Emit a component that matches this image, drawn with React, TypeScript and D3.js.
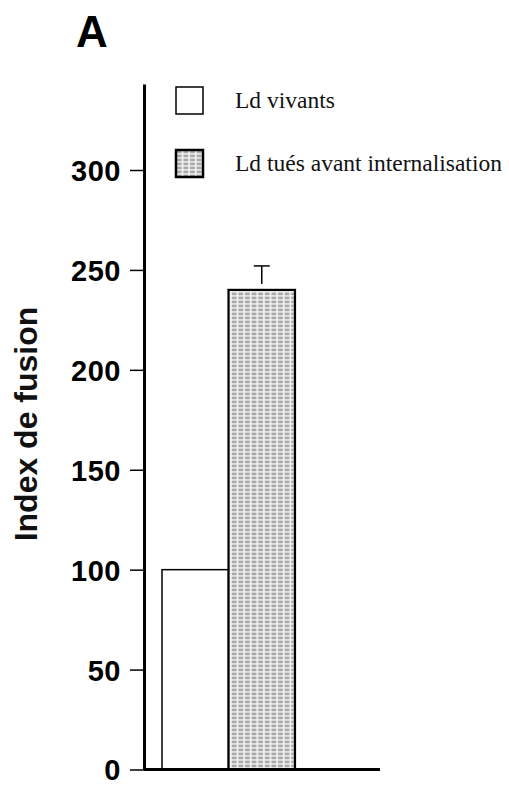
import React, { useEffect, useRef } from 'react';
import * as d3 from 'd3';

// data
const categories = ['Ld vivants', 'Ld tués avant internalisation'];
const values = [100, 240];
const errors = [0, 12];
const yTicks = [0, 50, 100, 150, 200, 250, 300];

const App = () => {
  const svgRef = useRef<SVGSVGElement>(null);

  useEffect(() => {
    if (!svgRef.current) return;
    const svg = d3.select(svgRef.current);
    svg.selectAll('*').remove();

    const width = 509;
    const height = 785;
    const axisX = 144;
    const baseY = 769.5;

    svg.attr('width', width).attr('height', height);

    // dotted grey fill used by the second bar
    const defs = svg.append('defs');
    const pat = defs.append('pattern')
      .attr('id', 'dots')
      .attr('patternUnits', 'userSpaceOnUse')
      .attr('width', 6.6)
      .attr('height', 4);
    pat.append('rect').attr('width', 6.6).attr('height', 4).attr('fill', '#f2f2f2');
    pat.append('rect').attr('x', 0.8).attr('y', 0.6).attr('width', 4.8).attr('height', 2.6).attr('fill', '#a9a9a9');

    const y = d3.scaleLinear().domain([0, 300]).range([baseY, 170]);
    const x = d3.scaleBand().domain(categories).range([162, 295]).paddingInner(0);

    // panel letter
    svg.append('text')
      .attr('x', 76)
      .attr('y', 47)
      .attr('font-family', 'Liberation Sans, Arial, sans-serif')
      .attr('font-weight', 'bold')
      .attr('font-size', 44)
      .text('A');

    // bars
    svg.selectAll('.bar')
      .data(values)
      .enter()
      .append('rect')
      .attr('class', 'bar')
      .attr('x', (d, i) => x(categories[i])!)
      .attr('y', d => y(d))
      .attr('width', x.bandwidth())
      .attr('height', d => baseY - y(d))
      .attr('fill', (d, i) => (i === 0 ? 'white' : 'url(#dots)'))
      .attr('stroke', '#000')
      .attr('stroke-width', (d, i) => (i === 0 ? 1.5 : 2.2));

    // error bars (upper only, drawn with a small gap above the bar like the original)
    values.forEach((v, i) => {
      if (!errors[i]) return;
      const cx = x(categories[i])! + x.bandwidth() / 2;
      svg.append('line')
        .attr('x1', cx).attr('x2', cx)
        .attr('y1', y(v) - 6).attr('y2', y(v + errors[i]))
        .attr('stroke', '#000').attr('stroke-width', 1.5);
      svg.append('line')
        .attr('x1', cx - 8).attr('x2', cx + 8)
        .attr('y1', y(v + errors[i])).attr('y2', y(v + errors[i]))
        .attr('stroke', '#000').attr('stroke-width', 1.5);
    });

    // y axis
    const yAxisScale = d3.scaleLinear().domain([0, 343]).range([baseY, y(343)]);
    const yAxis = svg.append('g')
      .attr('transform', `translate(${axisX},0)`)
      .call(d3.axisLeft(yAxisScale).tickValues(yTicks).tickSize(14).tickSizeOuter(0).tickPadding(9));
    yAxis.select('.domain').attr('stroke-width', 3);
    yAxis.selectAll('.tick line').attr('stroke-width', 1.5);
    yAxis.selectAll('.tick text')
      .attr('font-family', 'Liberation Sans, Arial, sans-serif')
      .attr('font-weight', 'bold')
      .attr('font-size', 29)
      .attr('letter-spacing', 0.5)
      .attr('fill', '#000')
      .attr('dy', '0.36em');

    // x baseline
    svg.append('line')
      .attr('x1', axisX).attr('x2', 380)
      .attr('y1', baseY).attr('y2', baseY)
      .attr('stroke', '#000').attr('stroke-width', 3);

    // y axis title
    svg.append('text')
      .attr('transform', 'translate(37,424) rotate(-90)')
      .attr('text-anchor', 'middle')
      .attr('font-family', 'Liberation Sans, Arial, sans-serif')
      .attr('font-size', 32)
      .attr('font-weight', 'bold')
      .attr('fill', '#111')
      .text('Index de fusion');

    // legend
    const legend = svg.append('g');
    const items = legend.selectAll('.legend-item')
      .data(categories)
      .enter()
      .append('g')
      .attr('class', 'legend-item')
      .attr('transform', (d, i) => `translate(176, ${87 + i * 63})`);
    items.append('rect')
      .attr('width', 27)
      .attr('height', 27)
      .attr('fill', (d, i) => (i === 0 ? 'white' : 'url(#dots)'))
      .attr('stroke', '#000')
      .attr('stroke-width', (d, i) => (i === 0 ? 1.5 : 2.5));
    items.append('text')
      .attr('x', 59)
      .attr('y', 21)
      .attr('font-family', 'Liberation Serif, Times New Roman, serif')
      .attr('font-size', 23.5)
      .attr('fill', '#111')
      .text(d => d);
  }, []);

  return (
    <svg ref={svgRef} style={{ position: 'absolute', left: 0, top: 0, background: 'white' }}></svg>
  );
};

export default App;
